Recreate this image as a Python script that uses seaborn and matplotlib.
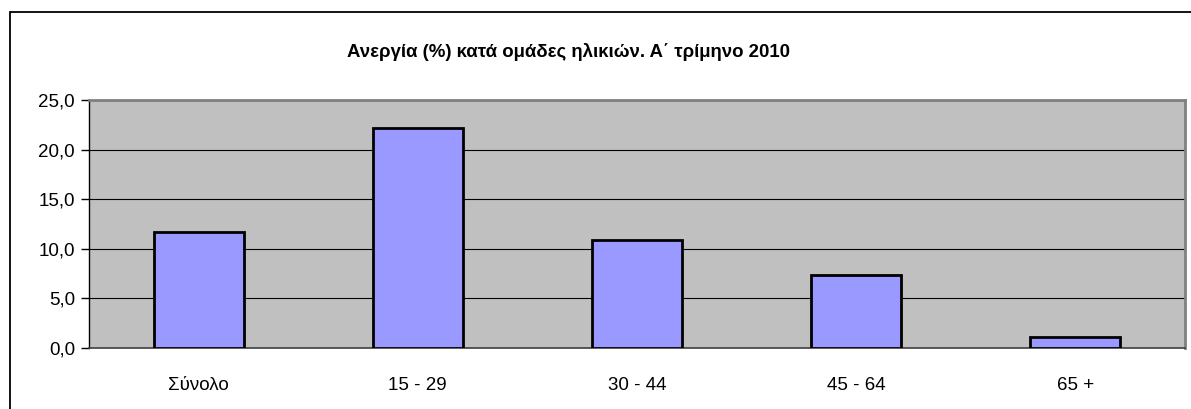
import numpy as np
import pandas as pd
import matplotlib
matplotlib.use("Agg")
import matplotlib.pyplot as plt
import seaborn as sns
from matplotlib.patches import Rectangle
from matplotlib.ticker import FuncFormatter

# δεδομένα
groups = ["Σύνολο", "15 - 29", "30 - 44", "45 - 64", "65 +"]
rates = [11.7, 22.2, 10.9, 7.4, 1.1]
title = "Ανεργία (%) κατά ομάδες ηλικιών. Α΄ τρίμηνο 2010"

sns.set_style("white")
plt.rcParams["font.family"] = ["Liberation Sans", "DejaVu Sans"]
plt.rcParams["text.color"] = "black"
plt.rcParams["xtick.color"] = "black"
plt.rcParams["ytick.color"] = "black"

df = pd.DataFrame({"group": groups, "rate": rates})

fig = plt.figure(figsize=(11.91, 4.09), dpi=100)
ax = fig.add_axes([0.0747, 0.149, 0.9203, 0.6065])
ax.set_facecolor("#C0C0C0")

sns.barplot(data=df, x="group", y="rate", color="#9999FF", saturation=1,
            edgecolor="black", linewidth=2, width=0.41, ax=ax, zorder=3)

ax.set_xlim(-0.5, 4.5)
ax.set_ylim(0, 25)
ax.set_yticks(np.arange(0, 26, 5))
ax.yaxis.set_major_formatter(FuncFormatter(lambda v, p: f"{v:.1f}".replace(".", ",")))
ax.grid(axis="y", color="black", linewidth=0.8, zorder=1)
ax.set_axisbelow(True)

# x ticks στα όρια των κατηγοριών
ax.set_xticks(np.arange(-0.5, 5, 1), minor=True)
ax.tick_params(axis="x", which="major", length=0, pad=21, labelsize=13.5)
ax.tick_params(axis="x", which="minor", length=6, width=1, color="black", direction="out")
ax.tick_params(axis="y", length=6, width=1, color="black", direction="out",
               left=True, labelsize=13.5, pad=4)
ax.set_xlabel(None)
ax.set_ylabel(None)

for s in ["top", "right"]:
    ax.spines[s].set_color("#808080")
    ax.spines[s].set_linewidth(2)
ax.spines["left"].set_color("black")
ax.spines["left"].set_linewidth(1)
ax.spines["bottom"].set_color("#404040")
ax.spines["bottom"].set_linewidth(1.2)

fig.text(0.477, 0.873, title, ha="center", va="center", fontsize=13.4, fontweight="bold")

# πλαίσιο γραφήματος
fig.patches.append(Rectangle((0.0084, -0.2), 1.2, 1.171, transform=fig.transFigure,
                             fill=False, edgecolor="black", linewidth=1.3))

fig.savefig("out.png", dpi=100)
